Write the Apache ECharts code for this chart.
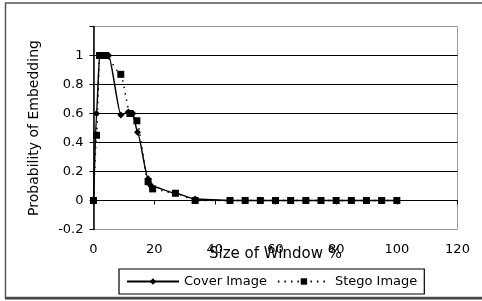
<!DOCTYPE html>
<html>
<head>
<meta charset="utf-8">
<script src="https://cdn.jsdelivr.net/npm/echarts@6/dist/echarts.min.js"></script>
<style>html,body{margin:0;padding:0;background:#fff;}#c{width:482px;height:301px;}</style>
</head>
<body>
<div id="c"></div>
<script>
var seriesNames = ['Cover Image', 'Stego Image'];
var coverData = [[0,0],[1,0.6],[2,1],[3.5,1],[5,1],[9,0.59],[11.5,0.61],[13,0.6],[14.5,0.47],[18,0.15],[18.6,0.11],[19,0.1],[27,0.05],[33.5,0.01],[45,0],[50,0],[55,0],[60,0],[65,0],[70,0],[75,0],[80,0],[85,0],[90,0],[95,0],[100,0]];
var stegoData = [[0,0],[1,0.45],[2,1],[4,1],[9,0.87],[12,0.6],[14.3,0.55],[18,0.13],[19.5,0.08],[27,0.05],[33.5,0],[45,0],[50,0],[55,0],[60,0],[65,0],[70,0],[75,0],[80,0],[85,0],[90,0],[95,0],[100,0]];
var xTitle = 'Size of Window %';
var yTitle = 'Probability of Embedding';

var font = 'DejaVu Sans';
var chart = echarts.init(document.getElementById('c'), null, {renderer: 'canvas'});
chart.setOption({
  animation: false,
  backgroundColor: '#fff',
  grid: {left: 93.5, right: 24.5, top: 26.5, bottom: 71.5, show: true, borderColor: '#999', borderWidth: 1},
  xAxis: {
    type: 'value', min: 0, max: 120, interval: 20,
    name: xTitle, nameLocation: 'middle', nameGap: 17, nameMoveOverlap: false,
    nameTextStyle: {fontFamily: font, fontSize: 15, color: '#000'},
    axisLine: {onZero: true, lineStyle: {color: '#000', width: 1}},
    axisTick: {show: true, inside: false, length: 4, lineStyle: {color: '#000'}},
    axisLabel: {margin: 14, fontFamily: font, fontSize: 13, color: '#000'},
    splitLine: {show: false}
  },
  yAxis: {
    type: 'value', min: -0.2, max: 1.2, interval: 0.2,
    name: yTitle, nameLocation: 'middle', nameGap: 52, nameRotate: 90,
    nameTextStyle: {fontFamily: font, fontSize: 14, color: '#000'},
    axisLine: {onZero: false, lineStyle: {color: '#000', width: 1.5}},
    axisTick: {show: true, inside: false, length: 4, lineStyle: {color: '#000'}},
    axisLabel: {margin: 10, fontFamily: font, fontSize: 13, color: '#000',
      formatter: function (v) { var r = Math.round(v * 10) / 10; if (r > 1.1) return ''; return String(r); }},
    splitLine: {show: true, lineStyle: {color: ['transparent','#000','#000','#000','#000','#000','#000','transparent'], width: 1.2}}
  },
  legend: {
    show: true, left: 119, top: 269, orient: 'horizontal',
    borderColor: '#000', borderWidth: 1.2, padding: [6, 7, 6, 7],
    itemWidth: 52, itemHeight: 8, itemGap: 10,
    textStyle: {fontFamily: font, fontSize: 13, color: '#000'},
    data: seriesNames
  },
  series: [
    {
      name: seriesNames[0], type: 'line', data: coverData,
      smooth: 0.2, smoothMonotone: 'x',
      symbol: 'diamond', symbolSize: 7,
      lineStyle: {color: '#000', width: 1.5, type: 'solid'},
      itemStyle: {color: '#000'}, z: 3
    },
    {
      name: seriesNames[1], type: 'line', data: stegoData,
      smooth: 0.2, smoothMonotone: 'x',
      symbol: 'rect', symbolSize: 7,
      lineStyle: {color: '#000', width: 1.5, type: [1.5, 5]},
      itemStyle: {color: '#000'}, z: 2
    }
  ],
  graphic: [
    {type: 'rect', shape: {x: 5.5, y: 3, width: 490, height: 294.5}, style: {fill: null, stroke: '#555', lineWidth: 1.5}, silent: true, z: -1},
    {type: 'line', shape: {x1: 5, y1: 298.5, x2: 482, y2: 298.5}, style: {stroke: '#444', lineWidth: 2}, silent: true, z: -1}
  ]
});
</script>
</body>
</html>
